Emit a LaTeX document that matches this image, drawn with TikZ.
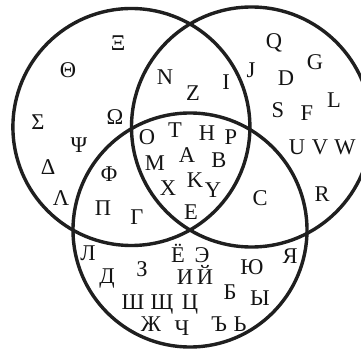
\documentclass[tikz,border=0pt]{standalone}
\usepackage{fontspec}
\setmainfont{Liberation Serif}
\begin{document}
\begin{tikzpicture}[x=1pt,y=-1pt,
  ring/.style={line width=3.4pt, draw=black!88},
  lt/.style={inner sep=0pt, font=\fontsize{22.5}{22.5}\selectfont, text height=14.9pt, text depth=0pt, text=black!92}]
\clip (0,0) rectangle (361,352);
\fill[white] (0,0) rectangle (361,352);
% circles
\draw[ring] (131.4,127) circle[radius=118.5];
\draw[ring] (251.5,127) circle[radius=120];
\draw[ring] (190,230) circle[radius=117];
% left only
\node[lt] (xi) at (118,43) {Ξ};
\node[lt] (theta) at (68,70) {Θ};
\node[lt] (sigma) at (38,122) {Σ};
\node[lt] (omega) at (115,117) {Ω};
\node[lt] (psi) at (79,145) {Ψ};
\node[lt] (delta) at (48,167) {Δ};
\node[lt] (lambda) at (61,198) {Λ};
% left & right
\node[lt] (n) at (165,77) {N};
\node[lt] (z) at (193,93) {Z};
\node[lt] (i) at (226,82) {I};
% right only
\node[lt] (q) at (274,41) {Q};
\node[lt] (g) at (315,62) {G};
\node[lt] (j) at (251,70) {J};
\node[lt] (d) at (286,78) {D};
\node[lt] (l) at (334,100) {L};
\node[lt] (s) at (278,110) {S};
\node[lt] (f) at (307,113) {F};
\node[lt] (u) at (297,147) {U};
\node[lt] (v) at (320,147) {V};
\node[lt] (w) at (345,147) {W};
% all three
\node[lt] (o) at (147,137) {O};
\node[lt] (t) at (175,130) {T};
\node[lt] (h) at (207,133) {H};
\node[lt] (p) at (231,137) {P};
\node[lt] (m) at (155,163) {M};
\node[lt] (a) at (187,155) {A};
\node[lt] (b) at (219,160) {B};
\node[lt] (x) at (168,188) {X};
\node[lt] (k) at (195,180) {K};
\node[lt] (y) at (213,190) {Y};
\node[lt] (e) at (191,212) {E};
% left & bottom
\node[lt] (phi) at (109,174) {Φ};
\node[lt] (pi) at (103,208) {Π};
\node[lt] (gamma) at (137,217) {Γ};
% right & bottom
\node[lt] (c) at (260,198) {C};
\node[lt] (r) at (322,194) {R};
% bottom only
\node[lt] (el) at (88,253) {Л};
\node[lt] (yo) at (178,255) {Ё};
\node[lt] (ee) at (202,255) {Э};
\node[lt] (ya) at (290,256) {Я};
\node[lt] (de) at (107,276) {Д};
\node[lt] (ze) at (142,269) {З};
\node[lt] (yu) at (252,267) {Ю};
\node[lt] (ii) at (185,277) {И};
\node[lt] (ik) at (205,277) {Й};
\node[lt] (be) at (230,292) {Б};
\node[lt] (yy) at (260,298) {Ы};
\node[lt] (sha) at (133,302) {Ш};
\node[lt] (shcha) at (162,302) {Щ};
\node[lt] (tse) at (190,302) {Ц};
\node[lt] (zhe) at (151,324) {Ж};
\node[lt] (che) at (182,328) {Ч};
\node[lt] (hard) at (219,324) {Ъ};
\node[lt] (soft) at (240,324) {Ь};
\end{tikzpicture}
\end{document}
